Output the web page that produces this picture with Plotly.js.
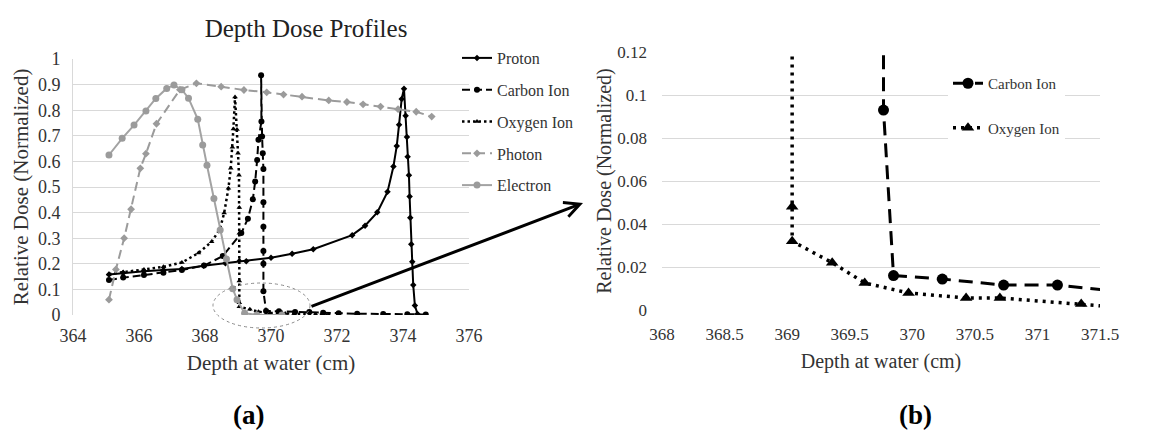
<!DOCTYPE html>
<html>
<head>
<meta charset="utf-8">
<script src="https://cdn.plot.ly/plotly-3.0.1.min.js"></script>
<style>html,body{margin:0;padding:0;background:#fff;}#chart{width:1156px;height:436px;}</style>
</head>
<body>
<div id="chart"></div>
<script>
// ---- data ----
var protonX = [365.09, 365.52, 366.15, 366.74, 367.30, 367.96, 368.62, 369.25, 370.00, 370.64, 371.28, 372.46, 372.85, 373.22, 373.53, 373.71, 373.81, 373.88, 373.96, 374.03, 374.08, 374.12, 374.14, 374.18, 374.20, 374.22, 374.25, 374.28, 374.31, 374.36, 374.44];
var protonY = [0.158, 0.164, 0.171, 0.176, 0.180, 0.192, 0.202, 0.210, 0.224, 0.239, 0.257, 0.312, 0.349, 0.401, 0.481, 0.580, 0.660, 0.743, 0.844, 0.884, 0.778, 0.695, 0.618, 0.546, 0.463, 0.380, 0.276, 0.208, 0.117, 0.037, 0.004];

var carbonX = [365.09, 365.52, 366.15, 366.74, 367.30, 367.97, 368.54, 369.10, 369.30, 369.45, 369.52, 369.58, 369.62, 369.71, 369.70, 369.73, 369.75, 369.77, 369.77, 369.77, 369.77, 369.77, 369.77, 369.85, 370.24, 370.73, 371.16, 371.58, 372.05, 372.61, 373.40, 374.13, 374.69];
var carbonY = [0.137, 0.146, 0.156, 0.165, 0.176, 0.193, 0.230, 0.320, 0.376, 0.452, 0.521, 0.605, 0.685, 0.756, 0.937, 0.697, 0.632, 0.570, 0.440, 0.345, 0.250, 0.200, 0.093, 0.016, 0.0144, 0.0116, 0.0116, 0.0090, 0.0070, 0.0050, 0.0040, 0.0030, 0.0020];

var oxygenX = [365.09, 365.52, 366.15, 366.74, 367.30, 367.80, 368.20, 368.45, 368.58, 368.71, 368.78, 368.83, 368.86, 368.91, 368.97, 369.00, 369.03, 369.04, 369.04, 369.04, 369.04, 369.04, 369.04, 369.36, 369.62, 369.97, 370.43, 370.70, 371.35, 371.75];
var oxygenY = [0.160, 0.168, 0.178, 0.188, 0.205, 0.242, 0.286, 0.335, 0.398, 0.495, 0.573, 0.655, 0.727, 0.852, 0.725, 0.632, 0.546, 0.420, 0.319, 0.215, 0.133, 0.048, 0.032, 0.022, 0.0126, 0.0079, 0.0056, 0.0056, 0.0028, 0.0008];

var photonX = [365.09, 365.30, 365.55, 365.76, 366.04, 366.21, 366.53, 367.24, 367.74, 368.49, 369.18, 369.87, 370.38, 370.94, 371.75, 372.30, 372.79, 373.32, 373.85, 374.40, 374.87];
var photonY = [0.060, 0.178, 0.300, 0.413, 0.573, 0.630, 0.747, 0.880, 0.905, 0.892, 0.879, 0.870, 0.861, 0.853, 0.838, 0.832, 0.823, 0.814, 0.804, 0.794, 0.775];

var electronX = [365.09, 365.49, 365.85, 366.21, 366.51, 366.84, 367.06, 367.30, 367.50, 367.78, 367.93, 368.06, 368.27, 368.46, 368.65, 368.84, 368.97, 369.20, 369.57, 370.33];
var electronY = [0.625, 0.690, 0.742, 0.797, 0.846, 0.885, 0.898, 0.880, 0.847, 0.765, 0.664, 0.585, 0.455, 0.332, 0.219, 0.103, 0.060, 0.007, 0.000, 0.000];

var seriesNames = ['Proton', 'Carbon Ion', 'Oxygen Ion', 'Photon', 'Electron'];
var chartTitle = 'Depth Dose Profiles';
var xTitle = 'Depth at water (cm)';
var yTitle = 'Relative Dose (Normalized)';
var panelLabels = ['(a)', '(b)'];

// ---- styling ----
var FONT = 'Liberation Serif, Times New Roman, serif';
var BLACK = '#000000';
var GRAY = '#9b9b9b';
var EGRAY = '#a3a3a3';
var TXT = '#333333';

var traces = [
  {x: protonX, y: protonY, name: seriesNames[0], xaxis: 'x', yaxis: 'y', legend: 'legend', legendgroup: 'p',
   mode: 'lines+markers', line: {color: BLACK, width: 2}, marker: {symbol: 'diamond', size: 5, color: BLACK}},
  {x: carbonX, y: carbonY, name: seriesNames[1], xaxis: 'x', yaxis: 'y', legend: 'legend', legendgroup: 'c',
   mode: 'lines+markers', line: {color: BLACK, width: 2, dash: '8px,4px'}, marker: {symbol: 'circle', size: 6, color: BLACK}},
  {x: oxygenX, y: oxygenY, name: seriesNames[2], xaxis: 'x', yaxis: 'y', legend: 'legend', legendgroup: 'o',
   mode: 'lines+markers', line: {color: BLACK, width: 2.5, dash: '2.5px,3px'}, marker: {symbol: 'triangle-up', size: 5, color: BLACK}},
  {x: photonX, y: photonY, name: seriesNames[3], xaxis: 'x', yaxis: 'y', legend: 'legend', legendgroup: 'ph',
   mode: 'lines+markers', line: {color: GRAY, width: 2, dash: '9px,5px'}, marker: {symbol: 'diamond', size: 6, color: GRAY}},
  {x: electronX, y: electronY, name: seriesNames[4], xaxis: 'x', yaxis: 'y', legend: 'legend', legendgroup: 'e',
   mode: 'lines+markers', line: {color: EGRAY, width: 2}, marker: {symbol: 'circle', size: 7, color: GRAY}},
  // panel (b): zoom on the tail of the carbon and oxygen curves
  {x: carbonX, y: carbonY, name: seriesNames[1], xaxis: 'x2', yaxis: 'y2', legend: 'legend2', legendgroup: 'c2',
   mode: 'lines+markers', line: {color: BLACK, width: 3, dash: '14px,8px'}, marker: {symbol: 'circle', size: 11, color: BLACK}},
  {x: oxygenX, y: oxygenY, name: seriesNames[2], xaxis: 'x2', yaxis: 'y2', legend: 'legend2', legendgroup: 'o2',
   mode: 'lines+markers', line: {color: BLACK, width: 3.5, dash: '3px,5px'}, marker: {symbol: 'triangle-up', size: 11, color: BLACK}}
];

var W = 1156, H = 436;
function px(x) { return x / W; }
function py(y) { return 1 - y / H; }

var axisFontA = {family: FONT, size: 18, color: TXT};
var axisFontB = {family: FONT, size: 17, color: TXT};

var layout = {
  width: W, height: H,
  margin: {l: 0, r: 0, t: 0, b: 0},
  paper_bgcolor: '#ffffff', plot_bgcolor: '#ffffff',
  font: {family: FONT, color: TXT},
  title: {text: chartTitle, font: {family: FONT, size: 25, color: '#222'}, x: px(306), xanchor: 'center', y: py(28), yanchor: 'middle', xref: 'paper', yref: 'paper'},
  xaxis: {domain: [px(73), px(469)], range: [364, 376], dtick: 2, tick0: 364, showgrid: false, zeroline: false,
          showline: false, ticks: '', tickfont: axisFontA, ticklabelstandoff: 8, automargin: false,
          title: {text: xTitle, font: {family: FONT, size: 21, color: TXT}, standoff: 10}},
  yaxis: {domain: [py(315), py(59)], range: [0, 1], dtick: 0.1, gridcolor: '#d9d9d9', gridwidth: 1, zeroline: false,
          showline: true, linecolor: '#d9d9d9', ticks: '', tickfont: axisFontA, ticklabelstandoff: 8, automargin: false,
          title: {text: yTitle, font: {family: FONT, size: 21, color: TXT}, standoff: 3}},
  xaxis2: {domain: [px(662), px(1100)], range: [368, 371.5], dtick: 0.5, tick0: 368, showgrid: false, zeroline: false,
           showline: false, ticks: '', tickfont: axisFontB, ticklabelstandoff: 12, automargin: false, anchor: 'y2',
           title: {text: xTitle, font: {family: FONT, size: 20, color: TXT}, standoff: 10}},
  yaxis2: {domain: [py(310), py(52)], range: [0, 0.12], dtick: 0.02, gridcolor: '#d9d9d9', gridwidth: 1, zeroline: false,
           showline: false, ticks: '', tickfont: axisFontB, ticklabelstandoff: 14, automargin: false, anchor: 'x2',
           tickformat: '.2~f',
           title: {text: yTitle, font: {family: FONT, size: 20, color: TXT}, standoff: 0}},
  legend: {x: px(457), xanchor: 'left', y: py(41), yanchor: 'top', bgcolor: 'rgba(255,255,255,0)',
           font: {family: FONT, size: 16, color: TXT}, tracegroupgap: 8, traceorder: 'grouped'},
  legend2: {x: px(948), xanchor: 'left', y: py(67), yanchor: 'top', bgcolor: '#ffffff',
            font: {family: FONT, size: 15, color: TXT}, tracegroupgap: 22, traceorder: 'grouped'},
  shapes: [
    {type: 'circle', xref: 'paper', yref: 'paper', x0: px(213), x1: px(310), y0: py(328), y1: py(283),
     line: {color: '#8a8a8a', width: 1, dash: 'dot'}, fillcolor: 'rgba(0,0,0,0)'}
  ],
  annotations: [
    {xref: 'paper', yref: 'paper', x: px(583), y: py(203), ax: -273, ay: 104, axref: 'pixel', ayref: 'pixel',
     text: '', showarrow: true, arrowhead: 5, arrowsize: 1, arrowwidth: 3, arrowcolor: '#000'},
    {xref: 'paper', yref: 'paper', x: px(248), y: py(415), text: '<b>' + panelLabels[0] + '</b>', showarrow: false,
     font: {family: FONT, size: 27, color: '#000'}, xanchor: 'center', yanchor: 'middle'},
    {xref: 'paper', yref: 'paper', x: px(915), y: py(415), text: '<b>' + panelLabels[1] + '</b>', showarrow: false,
     font: {family: FONT, size: 27, color: '#000'}, xanchor: 'center', yanchor: 'middle'}
  ]
};

Plotly.newPlot('chart', traces, layout, {displayModeBar: false, staticPlot: true});
</script>
</body>
</html>
